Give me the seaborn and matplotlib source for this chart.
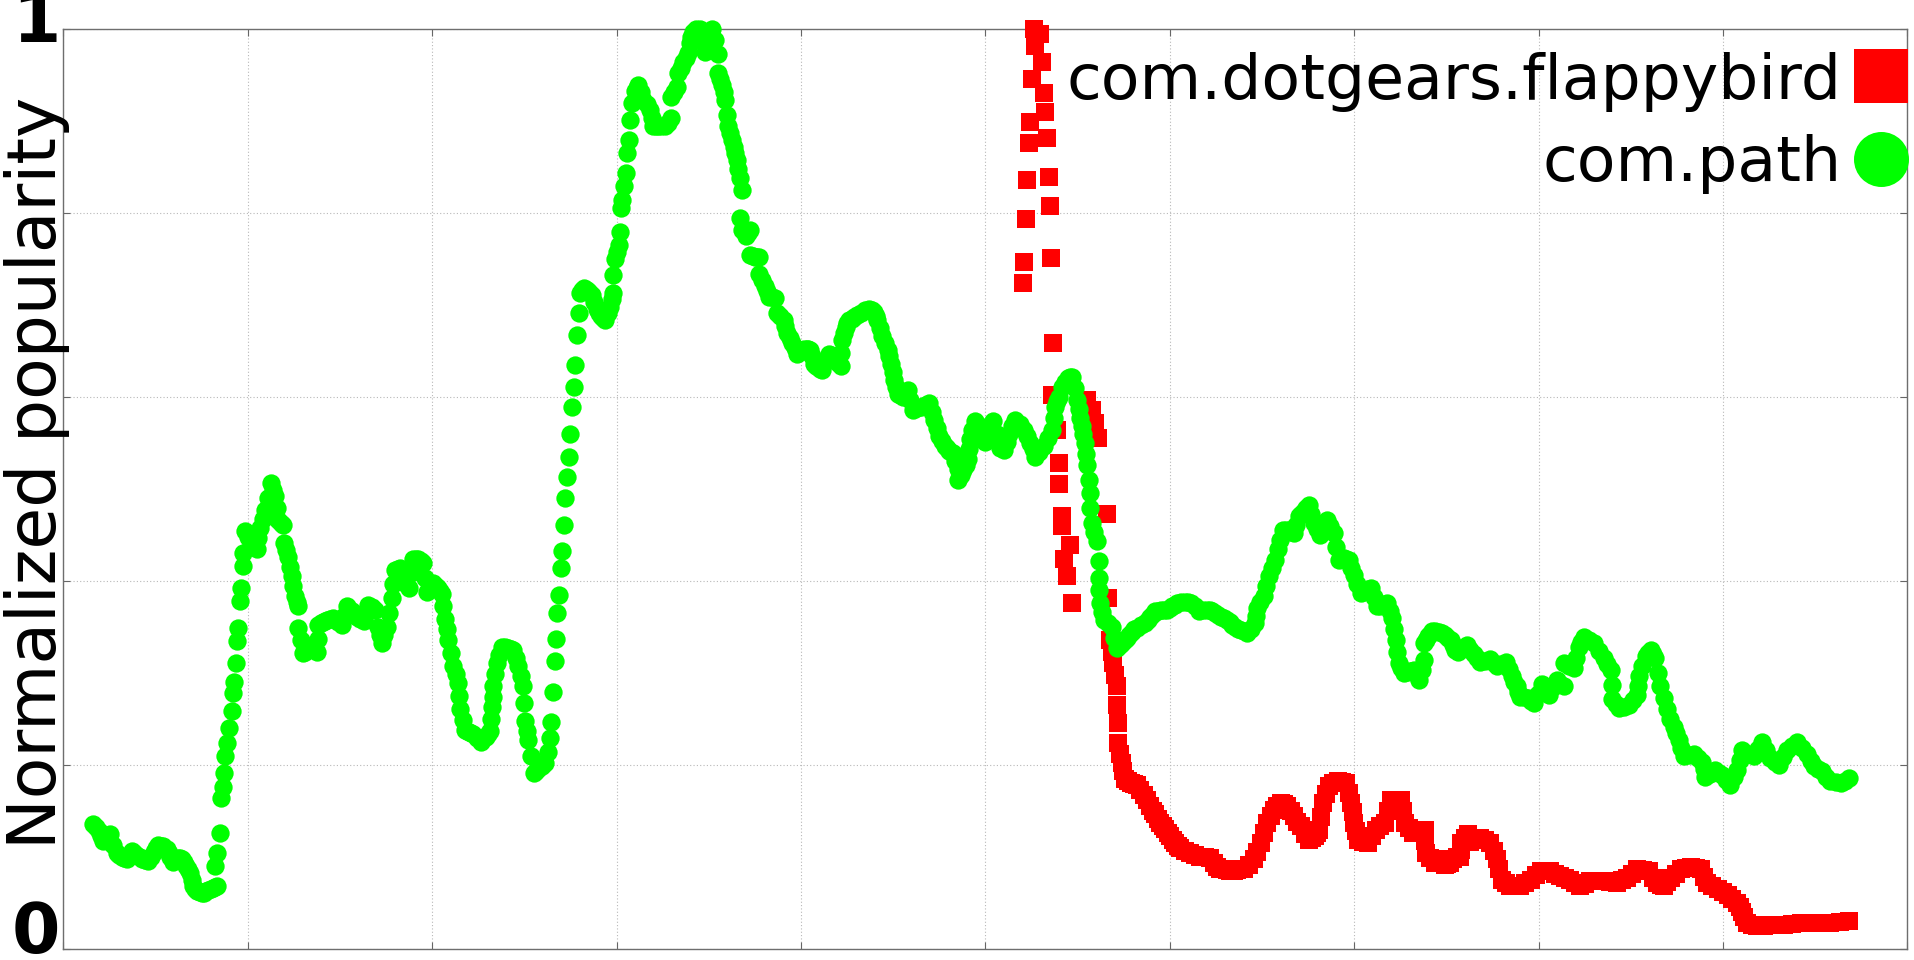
import matplotlib
matplotlib.use("Agg")
import matplotlib.pyplot as plt
import matplotlib.transforms as mtransforms
from matplotlib.lines import Line2D
import seaborn as sns

# ---------------- data ----------------
series_names = ["com.dotgears.flappybird", "com.path"]
series_colors = ["#ff0000", "#00ff00"]
y_label = "Normalized popularity"
y_ticks = [0, 0.2, 0.4, 0.6, 0.8, 1.0]
y_tick_labels = ["0", "", "", "", "", "1"]
x_ticks = [0, 10, 20, 30, 40, 50, 60, 70, 80, 90, 100]

path_x = [1.62, 1.76, 1.90, 2.03, 2.16, 2.34, 2.52, 2.70, 2.88, 3.02, 3.15, 3.29, 3.43, 3.56, 3.70,
          3.83, 3.95, 4.15, 4.28, 4.40, 4.60, 4.75, 4.90, 5.02, 5.14, 5.27, 5.40, 5.60, 5.70, 5.80,
          5.96, 6.08, 6.20, 6.30, 6.41, 6.53, 6.65, 6.76, 6.86, 6.95, 7.04, 7.13, 7.22, 7.31, 7.40,
          7.51, 7.62, 7.74, 7.86, 7.98, 8.10, 8.20, 8.30, 8.22, 8.31, 8.49, 8.52, 8.67, 8.70, 8.76,
          8.87, 8.98, 9.12, 9.18, 9.25, 9.34, 9.40, 9.48, 9.57, 9.63, 9.72, 9.74, 9.85, 10.03, 10.14,
          10.25, 10.37, 10.48, 10.57, 10.66, 10.80, 10.93, 11.10, 11.24, 11.35, 11.47, 11.56, 11.65, 11.78, 11.92,
          11.95, 12.08, 12.20, 12.29, 12.38, 12.47, 12.56, 12.65, 12.74, 12.74, 12.88, 13.01, 13.10, 13.20, 13.28,
          13.37, 13.55, 13.73, 13.78, 13.82, 13.94, 14.05, 14.16, 14.27, 14.45, 14.63, 14.86, 15.09, 15.22, 15.36,
          15.50, 15.63, 15.77, 15.90, 16.08, 16.27, 16.40, 16.54, 16.72, 16.90, 17.08, 17.17, 17.26, 17.40, 17.53,
          17.66, 17.80, 17.89, 17.98, 18.12, 18.25, 18.38, 18.50, 18.60, 18.71, 18.85, 18.98, 19.12, 19.25, 19.38,
          19.52, 19.61, 19.70, 19.88, 20.06, 20.18, 20.30, 20.40, 20.50, 20.60, 20.69, 20.78, 20.87, 21.00, 21.14,
          21.28, 21.41, 21.45, 21.50, 21.64, 21.77, 21.88, 22.00, 22.12, 22.23, 22.43, 22.63, 22.77, 22.90, 23.02,
          23.13, 23.18, 23.22, 23.27, 23.31, 23.40, 23.50, 23.63, 23.77, 23.94, 24.10, 24.25, 24.40, 24.54, 24.67,
          24.80, 24.94, 24.96, 25.03, 25.12, 25.21, 25.35, 25.49, 25.65, 25.80, 25.96, 26.12, 26.30, 26.39, 26.45,
          26.57, 26.63, 26.70, 26.76, 26.88, 26.99, 27.06, 27.15, 27.21, 27.30, 27.42, 27.48, 27.60, 27.66, 27.74,
          27.87, 27.93, 28.02, 28.11, 28.20, 28.29, 28.38, 28.52, 28.65, 28.78, 28.92, 29.04, 29.15, 29.27, 29.38,
          29.52, 29.65, 29.74, 29.82, 29.82, 29.91, 30.00, 30.10, 30.19, 30.24, 30.30, 30.40, 30.50, 30.58, 30.67,
          30.72, 30.81, 31.00, 31.08, 31.17, 31.30, 31.44, 31.62, 31.80, 31.89, 31.98, 32.12, 32.25, 32.42, 32.60,
          32.78, 32.97, 32.97, 33.10, 33.25, 33.34, 33.47, 33.60, 33.74, 33.88, 33.95, 34.05, 34.15, 34.32, 34.50,
          34.65, 34.80, 35.00, 35.16, 35.34, 35.52, 35.52, 35.61, 35.70, 35.80, 35.89, 35.97, 36.06, 36.15, 36.24,
          36.34, 36.43, 36.52, 36.60, 36.70, 36.79, 36.70, 36.79, 37.00, 37.12, 37.24, 37.24, 37.37, 37.50, 37.60,
          37.70, 37.70, 37.88, 38.06, 38.15, 38.24, 38.42, 38.60, 38.70, 38.88, 39.06, 39.15, 39.24, 39.38, 39.51,
          39.65, 39.78, 39.92, 40.05, 40.18, 40.30, 40.40, 40.50, 40.60, 40.69, 40.80, 40.90, 41.02, 41.14, 41.32,
          41.50, 41.60, 41.69, 41.80, 41.90, 42.02, 42.14, 42.18, 42.23, 42.32, 42.41, 42.50, 42.60, 42.74, 42.87,
          43.05, 43.23, 43.46, 43.69, 43.82, 43.95, 44.05, 44.14, 44.28, 44.41, 44.55, 44.69, 44.78, 44.87, 44.96,
          45.05, 45.14, 45.23, 45.36, 45.50, 45.64, 45.78, 45.92, 46.05, 46.28, 46.50, 46.73, 46.96, 47.10, 47.23,
          47.37, 47.50, 47.64, 47.78, 47.89, 48.00, 48.12, 48.23, 48.37, 48.50, 48.50, 48.65, 48.80, 48.92, 49.05,
          49.10, 49.14, 49.28, 49.41, 49.55, 49.70, 49.83, 49.96, 50.08, 50.20, 50.30, 50.41, 50.60, 50.78, 50.98,
          51.14, 51.30, 51.46, 51.62, 51.85, 52.07, 52.24, 52.40, 52.55, 52.70, 52.92, 53.15, 53.38, 53.60, 53.69,
          53.78, 53.89, 54.00, 54.15, 54.30, 54.45, 54.57, 54.69, 54.85, 54.97, 55.06, 55.15, 55.22, 55.30, 55.42,
          55.46, 55.50, 55.60, 55.64, 55.68, 55.77, 55.91, 56.05, 56.13, 56.13, 56.17, 56.22, 56.31, 56.40, 56.62,
          56.85, 56.99, 57.13, 57.27, 57.40, 57.54, 57.67, 57.80, 57.94, 58.07, 58.21, 58.44, 58.67, 58.80, 58.94,
          59.07, 59.21, 59.37, 59.53, 59.69, 59.85, 59.98, 60.12, 60.25, 60.39, 60.60, 60.80, 60.96, 61.12, 61.35,
          61.57, 61.78, 62.00, 62.15, 62.30, 62.46, 62.61, 62.77, 62.92, 63.08, 63.24, 63.39, 63.55, 63.71, 63.87,
          64.02, 64.18, 64.40, 64.63, 64.68, 64.72, 64.90, 65.08, 65.22, 65.35, 65.53, 65.71, 65.85, 65.98, 66.16,
          66.30, 66.45, 66.58, 66.71, 66.85, 66.98, 67.12, 67.25, 67.39, 67.53, 67.66, 67.80, 67.98, 68.16, 68.34,
          68.52, 68.70, 68.89, 69.02, 69.16, 69.30, 69.45, 69.57, 69.70, 69.84, 69.98, 70.16, 70.34, 70.47, 70.60,
          70.74, 70.88, 71.06, 71.24, 71.37, 71.50, 71.65, 71.79, 71.92, 72.06, 72.15, 72.24, 72.33, 72.42, 72.55,
          72.69, 72.85, 73.00, 73.12, 73.24, 73.38, 73.51, 73.65, 73.78, 73.78, 73.89, 74.00, 74.12, 74.24, 74.40,
          74.59, 74.78, 74.94, 75.09, 75.24, 75.36, 75.48, 75.60, 75.85, 76.11, 76.30, 76.50, 76.67, 76.84, 77.11,
          77.38, 77.56, 77.74, 77.97, 78.20, 78.38, 78.56, 78.68, 78.80, 78.90, 79.01, 79.20, 79.40, 79.57, 79.74,
          79.96, 80.19, 80.37, 80.55, 80.78, 81.00, 81.18, 81.36, 81.36, 81.63, 81.90, 82.04, 82.17, 82.31, 82.45,
          82.72, 82.99, 83.26, 83.53, 83.72, 83.90, 83.95, 83.99, 84.17, 84.35, 84.62, 84.89, 85.12, 85.35, 85.40,
          85.44, 85.62, 85.80, 85.93, 86.07, 86.20, 86.33, 86.47, 86.60, 86.78, 86.96, 87.14, 87.33, 87.46, 87.60,
          87.73, 87.87, 88.14, 88.41, 88.63, 88.86, 88.95, 89.04, 89.31, 89.58, 89.76, 89.94, 90.17, 90.40, 90.58,
          90.76, 90.90, 91.03, 91.35, 91.66, 91.88, 92.10, 92.33, 92.57, 92.80, 93.02, 93.25, 93.47, 93.75, 94.02,
          94.29, 94.56, 94.74, 94.92, 95.15, 95.37, 95.60, 95.82, 96.10, 96.37, 96.60, 96.82]
path_y = [0.135, 0.132, 0.128, 0.122, 0.117, 0.121, 0.124, 0.113, 0.104, 0.102, 0.100, 0.098, 0.097, 0.101, 0.106,
          0.104, 0.102, 0.099, 0.097, 0.096, 0.095, 0.100, 0.105, 0.109, 0.113, 0.112, 0.111, 0.108, 0.104, 0.100,
          0.094, 0.096, 0.098, 0.098, 0.097, 0.094, 0.090, 0.086, 0.082, 0.075, 0.068, 0.065, 0.063, 0.062, 0.061,
          0.060, 0.060, 0.062, 0.064, 0.065, 0.066, 0.067, 0.068, 0.090, 0.104, 0.126, 0.164, 0.176, 0.191, 0.209,
          0.223, 0.240, 0.258, 0.278, 0.290, 0.310, 0.334, 0.349, 0.378, 0.392, 0.416, 0.430, 0.454, 0.448, 0.444,
          0.440, 0.437, 0.435, 0.446, 0.457, 0.467, 0.477, 0.490, 0.506, 0.499, 0.492, 0.479, 0.466, 0.463, 0.461,
          0.441, 0.433, 0.426, 0.415, 0.405, 0.394, 0.383, 0.377, 0.372, 0.349, 0.335, 0.321, 0.323, 0.325, 0.327,
          0.329, 0.326, 0.323, 0.337, 0.352, 0.354, 0.355, 0.356, 0.357, 0.358, 0.359, 0.355, 0.352, 0.362, 0.372,
          0.369, 0.367, 0.364, 0.361, 0.358, 0.356, 0.365, 0.374, 0.371, 0.368, 0.350, 0.341, 0.332, 0.341, 0.350,
          0.365, 0.381, 0.396, 0.412, 0.413, 0.414, 0.407, 0.400, 0.396, 0.392, 0.408, 0.424, 0.424, 0.424, 0.421,
          0.419, 0.403, 0.388, 0.392, 0.397, 0.394, 0.392, 0.389, 0.386, 0.372, 0.358, 0.347, 0.336, 0.321, 0.307,
          0.298, 0.289, 0.275, 0.260, 0.249, 0.238, 0.236, 0.235, 0.234, 0.233, 0.229, 0.225, 0.228, 0.230, 0.233,
          0.236, 0.250, 0.263, 0.274, 0.285, 0.298, 0.310, 0.319, 0.328, 0.328, 0.327, 0.326, 0.325, 0.316, 0.307,
          0.296, 0.285, 0.267, 0.247, 0.237, 0.227, 0.209, 0.191, 0.193, 0.196, 0.199, 0.202, 0.214, 0.229, 0.246,
          0.279, 0.313, 0.337, 0.365, 0.384, 0.414, 0.432, 0.461, 0.490, 0.513, 0.535, 0.559, 0.589, 0.611, 0.635,
          0.667, 0.691, 0.713, 0.716, 0.718, 0.717, 0.716, 0.714, 0.711, 0.703, 0.695, 0.691, 0.688, 0.686, 0.684,
          0.691, 0.698, 0.706, 0.713, 0.733, 0.750, 0.757, 0.765, 0.779, 0.805, 0.814, 0.829, 0.843, 0.865, 0.879,
          0.901, 0.919, 0.933, 0.936, 0.939, 0.931, 0.923, 0.918, 0.912, 0.903, 0.894, 0.894, 0.894, 0.894, 0.894,
          0.898, 0.903, 0.926, 0.931, 0.937, 0.952, 0.958, 0.964, 0.969, 0.974, 0.985, 0.991, 0.997, 1.000, 1.000,
          0.988, 0.975, 0.990, 1.000, 0.988, 0.973, 0.952, 0.946, 0.939, 0.931, 0.923, 0.906, 0.894, 0.887, 0.879,
          0.872, 0.865, 0.857, 0.848, 0.838, 0.825, 0.794, 0.781, 0.775, 0.778, 0.781, 0.754, 0.753, 0.752, 0.752,
          0.752, 0.734, 0.727, 0.720, 0.715, 0.709, 0.708, 0.707, 0.691, 0.688, 0.684, 0.677, 0.669, 0.664, 0.658,
          0.653, 0.647, 0.649, 0.651, 0.652, 0.652, 0.652, 0.651, 0.644, 0.636, 0.634, 0.632, 0.630, 0.629, 0.638,
          0.647, 0.645, 0.643, 0.642, 0.640, 0.637, 0.633, 0.648, 0.662, 0.669, 0.676, 0.680, 0.683, 0.685, 0.687,
          0.689, 0.691, 0.694, 0.696, 0.694, 0.692, 0.688, 0.684, 0.675, 0.666, 0.659, 0.651, 0.644, 0.636, 0.627,
          0.618, 0.611, 0.603, 0.602, 0.600, 0.604, 0.607, 0.597, 0.586, 0.588, 0.589, 0.591, 0.593, 0.584, 0.575,
          0.566, 0.557, 0.552, 0.546, 0.544, 0.541, 0.540, 0.539, 0.530, 0.521, 0.510, 0.515, 0.520, 0.526, 0.532,
          0.543, 0.554, 0.564, 0.574, 0.570, 0.565, 0.558, 0.551, 0.558, 0.565, 0.570, 0.574, 0.559, 0.544, 0.542,
          0.551, 0.560, 0.568, 0.575, 0.570, 0.564, 0.557, 0.550, 0.543, 0.535, 0.540, 0.546, 0.555, 0.564, 0.577,
          0.589, 0.595, 0.600, 0.611, 0.616, 0.620, 0.621, 0.622, 0.610, 0.597, 0.587, 0.577, 0.568, 0.560, 0.550,
          0.538, 0.526, 0.510, 0.495, 0.479, 0.463, 0.453, 0.443, 0.421, 0.403, 0.390, 0.376, 0.366, 0.357, 0.354,
          0.350, 0.338, 0.327, 0.330, 0.332, 0.335, 0.338, 0.341, 0.344, 0.347, 0.349, 0.352, 0.354, 0.357, 0.361,
          0.364, 0.367, 0.367, 0.368, 0.368, 0.368, 0.370, 0.372, 0.374, 0.376, 0.377, 0.377, 0.377, 0.376, 0.372,
          0.367, 0.368, 0.368, 0.368, 0.367, 0.365, 0.363, 0.361, 0.359, 0.357, 0.355, 0.352, 0.350, 0.348, 0.346,
          0.345, 0.343, 0.348, 0.354, 0.362, 0.370, 0.377, 0.383, 0.394, 0.405, 0.414, 0.423, 0.434, 0.444, 0.455,
          0.455, 0.455, 0.453, 0.452, 0.461, 0.470, 0.473, 0.476, 0.479, 0.482, 0.472, 0.463, 0.456, 0.450, 0.458,
          0.466, 0.459, 0.452, 0.437, 0.423, 0.424, 0.425, 0.424, 0.423, 0.414, 0.406, 0.396, 0.387, 0.388, 0.390,
          0.391, 0.392, 0.382, 0.372, 0.373, 0.374, 0.375, 0.376, 0.367, 0.359, 0.347, 0.336, 0.323, 0.311, 0.305,
          0.300, 0.301, 0.302, 0.302, 0.303, 0.297, 0.292, 0.303, 0.314, 0.332, 0.336, 0.340, 0.342, 0.345, 0.345,
          0.344, 0.343, 0.341, 0.338, 0.336, 0.330, 0.325, 0.323, 0.327, 0.330, 0.325, 0.320, 0.316, 0.312, 0.313,
          0.315, 0.311, 0.307, 0.309, 0.312, 0.304, 0.296, 0.290, 0.285, 0.279, 0.274, 0.273, 0.272, 0.269, 0.267,
          0.277, 0.288, 0.282, 0.276, 0.284, 0.292, 0.288, 0.285, 0.310, 0.307, 0.305, 0.316, 0.328, 0.333, 0.339,
          0.335, 0.332, 0.324, 0.316, 0.309, 0.303, 0.287, 0.271, 0.266, 0.262, 0.263, 0.265, 0.270, 0.276, 0.286,
          0.296, 0.307, 0.318, 0.321, 0.325, 0.320, 0.316, 0.300, 0.285, 0.272, 0.260, 0.250, 0.241, 0.234, 0.227,
          0.218, 0.209, 0.210, 0.211, 0.207, 0.203, 0.195, 0.187, 0.190, 0.194, 0.191, 0.189, 0.183, 0.178, 0.186,
          0.194, 0.205, 0.216, 0.212, 0.209, 0.217, 0.225, 0.216, 0.207, 0.203, 0.200, 0.208, 0.216, 0.220, 0.225,
          0.218, 0.211, 0.204, 0.198, 0.195, 0.193, 0.187, 0.182, 0.181, 0.180, 0.182, 0.185]

flappy_x = [52.02, 52.09, 52.20, 52.25, 52.34, 52.43, 52.52, 52.61, 52.70, 52.97, 53.06, 53.15, 53.24, 53.33, 53.42,
            53.51, 53.57, 53.66, 53.60, 53.90, 53.97, 53.97, 54.14, 54.14, 54.27, 54.41, 54.60, 54.68, 55.50, 55.78,
            55.95, 56.10, 56.58, 56.67, 56.76, 56.85, 56.94, 57.03, 57.12, 57.14, 57.16, 57.21, 57.30, 57.39, 57.48,
            57.57, 57.74, 57.90, 58.05, 58.21, 58.39, 58.57, 58.75, 58.93, 59.07, 59.20, 59.34, 59.47, 59.61, 59.75,
            59.88, 60.00, 60.15, 60.30, 60.44, 60.57, 60.84, 61.10, 61.38, 61.65, 61.92, 62.19, 62.37, 62.55, 62.72,
            62.90, 63.09, 63.28, 63.46, 63.65, 63.82, 64.00, 64.28, 64.56, 64.74, 64.92, 65.10, 65.28, 65.46, 65.64,
            65.82, 66.00, 66.18, 66.37, 66.55, 66.73, 66.91, 67.09, 67.32, 67.55, 67.70, 67.85, 67.98, 68.10, 68.19,
            68.28, 68.46, 68.64, 68.87, 69.10, 69.32, 69.55, 69.69, 69.82, 69.91, 70.00, 70.09, 70.18, 70.45, 70.73,
            70.95, 71.18, 71.41, 71.64, 71.82, 72.00, 72.27, 72.55, 72.64, 72.73, 72.95, 73.18, 73.50, 73.82, 73.86,
            73.90, 74.13, 74.36, 74.67, 74.90, 75.05, 75.20, 75.36, 75.55, 75.75, 75.78, 75.81, 75.99, 76.17, 76.30,
            76.57, 76.84, 77.11, 77.38, 77.56, 77.74, 77.87, 78.00, 78.24, 78.47, 78.74, 79.00, 79.28, 79.56, 79.83,
            80.10, 80.37, 80.63, 80.90, 81.18, 81.44, 81.70, 81.98, 82.26, 82.53, 82.80, 83.16, 83.53, 83.89, 84.25,
            84.52, 84.80, 85.07, 85.35, 85.66, 85.97, 86.20, 86.43, 86.62, 86.80, 86.98, 87.16, 87.43, 87.70, 87.97,
            88.25, 88.52, 88.80, 88.97, 89.15, 89.42, 89.70, 89.97, 90.25, 90.50, 90.76, 90.90, 91.03, 91.16, 91.30,
            91.57, 91.84, 92.20, 92.57, 92.93, 93.30, 93.75, 94.20, 94.56, 94.92, 95.37, 95.82, 96.32, 96.82]
flappy_y = [0.724, 0.747, 0.793, 0.836, 0.876, 0.899, 0.946, 1.000, 0.982, 0.995, 0.964, 0.930, 0.910, 0.881, 0.839,
            0.807, 0.751, 0.659, 0.602, 0.564, 0.528, 0.505, 0.470, 0.459, 0.424, 0.405, 0.439, 0.376, 0.597, 0.586,
            0.572, 0.555, 0.472, 0.381, 0.336, 0.322, 0.310, 0.297, 0.285, 0.265, 0.245, 0.223, 0.212, 0.202, 0.193,
            0.184, 0.182, 0.180, 0.179, 0.178, 0.172, 0.167, 0.161, 0.155, 0.150, 0.146, 0.141, 0.137, 0.133, 0.130,
            0.126, 0.122, 0.118, 0.115, 0.112, 0.109, 0.106, 0.104, 0.102, 0.100, 0.099, 0.098, 0.093, 0.089, 0.087,
            0.086, 0.085, 0.084, 0.084, 0.085, 0.086, 0.087, 0.091, 0.097, 0.105, 0.115, 0.126, 0.137, 0.144, 0.151,
            0.155, 0.158, 0.157, 0.155, 0.150, 0.144, 0.138, 0.133, 0.125, 0.118, 0.120, 0.122, 0.126, 0.129, 0.143,
            0.158, 0.168, 0.177, 0.180, 0.182, 0.181, 0.180, 0.169, 0.158, 0.148, 0.137, 0.128, 0.118, 0.116, 0.115,
            0.122, 0.129, 0.133, 0.137, 0.150, 0.162, 0.162, 0.162, 0.150, 0.137, 0.131, 0.126, 0.128, 0.129, 0.117,
            0.104, 0.098, 0.093, 0.097, 0.091, 0.092, 0.093, 0.097, 0.099, 0.100, 0.107, 0.115, 0.120, 0.125, 0.116,
            0.118, 0.120, 0.118, 0.115, 0.106, 0.097, 0.086, 0.075, 0.071, 0.068, 0.068, 0.068, 0.071, 0.075, 0.080,
            0.084, 0.084, 0.084, 0.081, 0.079, 0.077, 0.075, 0.071, 0.068, 0.070, 0.073, 0.073, 0.073, 0.072, 0.071,
            0.074, 0.077, 0.081, 0.086, 0.085, 0.084, 0.077, 0.071, 0.069, 0.068, 0.072, 0.077, 0.081, 0.086, 0.088,
            0.089, 0.088, 0.086, 0.078, 0.071, 0.068, 0.065, 0.061, 0.058, 0.054, 0.050, 0.045, 0.040, 0.034, 0.028,
            0.026, 0.024, 0.025, 0.026, 0.026, 0.026, 0.027, 0.028, 0.028, 0.028, 0.028, 0.028, 0.029, 0.030]

# ---------------- figure ----------------
W, H, DPI = 1915, 960, 100
fig = plt.figure(figsize=(W / DPI, H / DPI), dpi=DPI)
ax_left, ax_right, ax_top, ax_bottom = 63.5, 1907.5, 29.0, 948.5
ax = fig.add_axes([ax_left / W, 1 - ax_bottom / H, (ax_right - ax_left) / W, (ax_bottom - ax_top) / H])

sns.scatterplot(x=flappy_x, y=flappy_y, ax=ax, marker="s", color=series_colors[0],
                s=187, linewidth=0, clip_on=False, legend=False, zorder=3)
sns.scatterplot(x=path_x, y=path_y, ax=ax, marker="o", color=series_colors[1],
                s=174, linewidth=0, clip_on=False, legend=False, zorder=4)

ax.set_xlim(0, 100)
ax.set_ylim(0, 1)
ax.set_xticks(x_ticks)
ax.set_xticklabels([])
ax.set_yticks(y_ticks)
ax.set_yticklabels(y_tick_labels, fontsize=50, fontweight="bold")
ax.set_xlabel("")
ax.set_ylabel("")
ax.tick_params(axis="both", which="major", direction="in", length=5, width=0.8,
               color="#666666", top=True, right=True)
ax.tick_params(axis="y", pad=2.5)
for sp in ax.spines.values():
    sp.set_color("#6e6e6e")
    sp.set_linewidth(1.0)
ax.set_axisbelow(True)
ax.grid(True, color="#b8b8b8", linestyle=(0, (1, 2)), linewidth=0.8)

# place the "0" and "1" tick labels as in the reference (both sit a little above their ticks)
label_shift_px = {"1": -13.0, "0": -4.5}
for lbl in ax.get_yticklabels():
    txt = lbl.get_text()
    if txt in label_shift_px:
        lbl.set_verticalalignment("baseline")
        lbl.set_transform(lbl.get_transform() + mtransforms.ScaledTranslation(
            0, label_shift_px[txt] / DPI, fig.dpi_scale_trans))

fig.text(37.5 / W, 1 - 473 / H, y_label, rotation=90, ha="center", va="center",
         fontsize=49, color="black")

handles = [
    Line2D([], [], marker="s", linestyle="none", color=series_colors[0], markeredgewidth=0, markersize=38.9),
    Line2D([], [], marker="o", linestyle="none", color=series_colors[1], markeredgewidth=0, markersize=39.6),
]
leg = ax.legend(handles, series_names, loc="upper right", bbox_to_anchor=(ax_right / W, 1 - 51.5 / H),
                bbox_transform=fig.transFigure, frameon=False, markerfirst=False, fontsize=45.5,
                borderpad=0, borderaxespad=0, handlelength=0.85, handletextpad=0.2, labelspacing=0.35)

fig.savefig("out.png", dpi=DPI)
